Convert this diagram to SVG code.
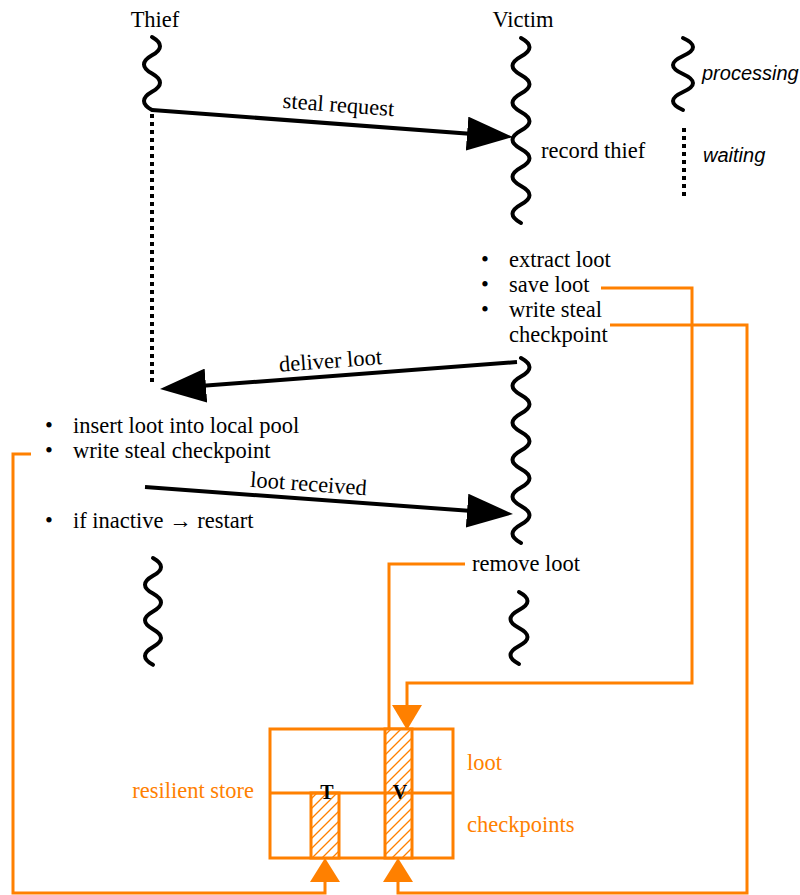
<svg xmlns="http://www.w3.org/2000/svg" width="800" height="895" viewBox="0 0 800 895">
<style>
text{font-family:"Liberation Serif","Times New Roman",serif;font-size:22.5px;fill:#000}
.legend{font-family:"Liberation Sans",Arial,sans-serif;font-style:italic;font-size:20px}
.or{fill:#ff8000}
.bold{font-weight:bold;font-size:20px}
.wave{fill:none;stroke:#000;stroke-width:4;stroke-linecap:round}
.wait{fill:none;stroke:#000;stroke-width:4;stroke-dasharray:4 4}
.msg{fill:none;stroke:#000;stroke-width:4;marker-end:url(#ah)}
.oline{fill:none;stroke:#ff8000;stroke-width:3}
.ohead{fill:#ff8000}
.cell{fill:#fff;stroke:#ff8000;stroke-width:3}
.col{fill:url(#hatch);stroke:#ff8000;stroke-width:3}
</style>
<defs>
<marker id="ah" markerUnits="userSpaceOnUse" markerWidth="48" markerHeight="34" viewBox="0 0 48 34" refX="36" refY="17" orient="auto"><path d="M0,0 L46,17 L0,34 z" fill="#000"/></marker>
<pattern id="hatch" patternUnits="userSpaceOnUse" width="10" height="10"><rect width="10" height="10" fill="#fff"/><path d="M-1,1 L1,-1 M0,10 L10,0 M9,11 L11,9" fill="none" stroke="#ff8000" stroke-width="1.3"/></pattern>
</defs>

<g id="thief">
<text x="155" y="27" text-anchor="middle">Thief</text>
<path class="wave" d="M152,37 q16,9.125 0,18.25 t0,18.25 t0,18.25 t0,18.25"/>
<line class="wait" x1="152" y1="114" x2="152" y2="386"/>
<text x="45" y="433">•</text><text x="73" y="433">insert loot into local pool</text>
<text x="45" y="458">•</text><text x="73" y="458">write steal checkpoint</text>
<text x="45" y="528">•</text><text x="73" y="528">if inactive → restart</text>
<path class="wave" d="M153,558 q16,8.9 0,17.8 t0,17.8 t0,17.8 t0,17.8 t0,17.8 t0,17.8"/>
</g>

<g id="victim">
<text x="523" y="27" text-anchor="middle">Victim</text>
<path class="wave" d="M521,38 q17,9.25 0,18.5 t0,18.5 t0,18.5 t0,18.5 t0,18.5 t0,18.5 t0,18.5 t0,18.5 t0,18.5 t0,18.5"/>
<text x="541" y="158">record thief</text>
<text x="481" y="267">•</text><text x="509" y="267">extract loot</text>
<text x="481" y="292">•</text><text x="509" y="292">save loot</text>
<text x="481" y="317">•</text><text x="509" y="317">write steal</text>
<text x="509" y="342">checkpoint</text>
<path class="wave" d="M521,358 q17,9.25 0,18.5 t0,18.5 t0,18.5 t0,18.5 t0,18.5 t0,18.5 t0,18.5 t0,18.5 t0,18.5 t0,18.5"/>
<text x="472" y="571">remove loot</text>
<path class="wave" d="M519,592 q17,9 0,18 t0,18 t0,18 t0,18"/>
</g>

<g id="legend">
<path class="wave" d="M683,38 q20,9 0,18 t0,18 t0,18 t0,18"/>
<text class="legend" x="702" y="80">processing</text>
<line class="wait" x1="684" y1="128" x2="684" y2="198"/>
<text class="legend" x="703" y="162">waiting</text>
</g>

<g id="store">
<rect class="cell" x="270" y="729" width="183" height="129"/>
<rect class="col" x="311" y="793" width="28" height="65"/>
<rect class="col" x="385" y="729" width="27" height="129"/>
<line x1="270" y1="793" x2="453" y2="793" stroke="#ff8000" stroke-width="3"/>
<text class="bold" x="327" y="799" text-anchor="middle">T</text>
<text class="bold" x="400" y="799" text-anchor="middle">V</text>
<text class="or" x="467" y="770">loot</text>
<text class="or" x="467" y="832">checkpoints</text>
<text class="or" x="254" y="798" text-anchor="end">resilient store</text>
</g>

<g id="connectors">
<path class="msg" d="M152,110 L503,136.25"/>
<text x="338" y="112" text-anchor="middle" transform="rotate(4.28 338 112)">steal request</text>
<path class="msg" d="M517,362 L170,388.25"/>
<text x="331" y="368" text-anchor="middle" transform="rotate(-4.3 331 368)">deliver loot</text>
<path class="msg" d="M145,487 L503,513.3"/>
<text x="308" y="491" text-anchor="middle" transform="rotate(4.2 308 491)">loot received</text>

<polyline class="oline" points="601,288 692,288 692,683 407,683 407,706"/>
<polygon class="ohead" points="392,705 422,705 407,730"/>
<polyline class="oline" points="610,325 747,325 747,893 398,893 398,881"/>
<polygon class="ohead" points="383,882 413,882 398,858"/>
<polyline class="oline" points="31,454 13,454 13,893 325,893 325,881"/>
<polygon class="ohead" points="310,882 340,882 325,858"/>
<polyline class="oline" points="465,564 389,564 389,729"/>
</g>
</svg>
